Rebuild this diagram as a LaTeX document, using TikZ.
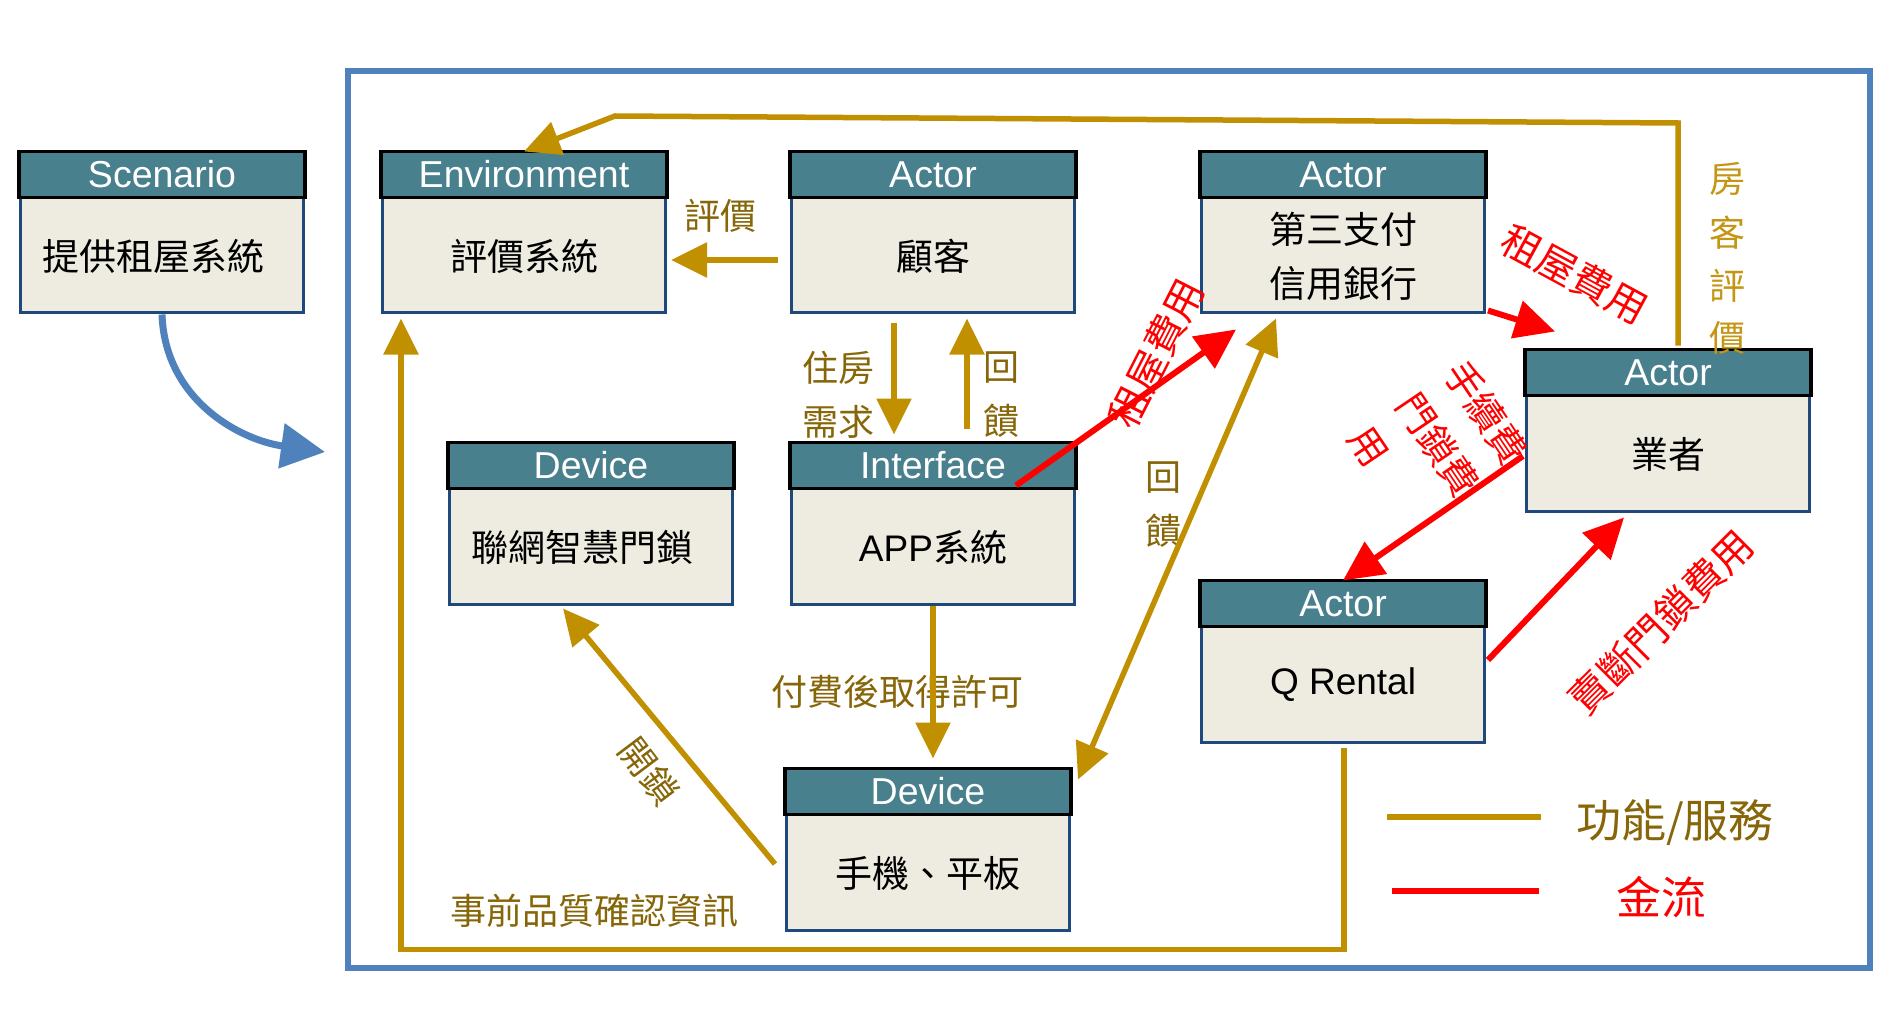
\documentclass[tikz,border=0pt]{standalone}
\usepackage{fontspec}
\setmainfont{Liberation Sans}
\newfontfamily\cjk{Noto Sans CJK TC}
\newfontfamily\lat{Liberation Sans}
\usetikzlibrary{arrows.meta,calc}
\definecolor{hdrfill}{RGB}{73,128,141}
\definecolor{bodyfill}{RGB}{238,236,225}
\definecolor{bodyline}{RGB}{31,73,125}
\definecolor{goldline}{RGB}{192,144,0}
\definecolor{goldtext}{RGB}{134,102,8}
\definecolor{goldlight}{RGB}{196,150,20}
\definecolor{frameblue}{RGB}{79,129,189}
\definecolor{redline}{RGB}{255,0,0}
\newcommand\umlbox[6][0]{%
  \node[umlbody] (#2) at (#3,#4) {};
  \draw[umlhdr] (#2.north west) rectangle ($(#2.north east)+(0,46)$);
  \node[hdrtxt] at ($(#2.north)+(0,23)$) {#5};
  \node[bodytxt] at ($(#2.center)+(#1,23)$) {#6};
}
\begin{document}
\begin{tikzpicture}[x=1pt,y=-1pt,
  umlbody/.style={draw=bodyline,line width=3pt,fill=bodyfill,minimum width=283pt,minimum height=160pt,inner sep=0pt},
  umlhdr/.style={draw=black,line width=3.2pt,fill=hdrfill},
  hdrtxt/.style={text=white,font=\lat\fontsize{37.5}{40}\selectfont,inner sep=0pt},
  bodytxt/.style={text=black,font=\cjk\fontsize{37}{54}\selectfont,align=center,inner sep=0pt},
  gold/.style={draw=goldline,line width=5.5pt},
  goldarrow/.style={gold,-{Triangle[length=36pt,width=34pt]}},
  redarrow/.style={draw=redline,line width=6pt,-{Triangle[length=40pt,width=38pt]}},
  bluearrow/.style={draw=frameblue,line width=7pt,-{Triangle[length=44pt,width=44pt]}},
  glabel/.style={text=goldtext,font=\cjk\fontsize{36}{43}\selectfont,inner sep=0pt},
  rlabel/.style={text=redline,font=\cjk\fontsize{40}{52}\selectfont,inner sep=0pt},
]
\useasboundingbox (0,0) rectangle (1890,1032);
\fill[white] (0,0) rectangle (1890,1032);
\draw[draw=frameblue,line width=6.5pt] (348,71) rectangle (1870,968);

% boxes
\umlbox[-9]{scen}{162}{233}{Scenario}{提供租屋系統}
\umlbox{env}{524}{233}{Environment}{評價系統}
\umlbox{cust}{933}{233}{Actor}{顧客}
\umlbox{pay}{1343}{233}{Actor}{第三支付\\信用銀行}
\umlbox{biz}{1668}{431}{Actor}{業者}
\umlbox[-9]{lock}{591}{524}{Device}{聯網智慧門鎖}
\umlbox{app}{933}{524}{Interface}{{\lat APP}系統}
\umlbox{qr}{1343}{662}{Actor}{{\lat Q Rental}}
\umlbox{dev}{928}{850}{Device}{手機、平板}

% labels
\node[glabel] (l1) at (720,216) {評價};
\node[glabel] (l2) at (838,368) {住房};
\node[glabel] (l3) at (838,422) {需求};
\node[glabel] (l4) at (1001,368) {回};
\node[glabel] (l5) at (1001,421) {饋};
\node[glabel] (l6) at (1163,478) {回};
\node[glabel] (l7) at (1163,531) {饋};
\node[glabel] (l8) at (897,692) {付費後取得許可};
\node[glabel,rotate=-53] (l9) at (649,771) {開鎖};
\node[glabel] (l10) at (594,911) {事前品質確認資訊};
\node[glabel,text=goldlight] (m1) at (1727,179) {房};
\node[glabel,text=goldlight] (m2) at (1727,233) {客};
\node[glabel,text=goldlight] (m3) at (1727,286) {評};
\node[glabel,text=goldlight] (m4) at (1727,338) {價};
\node[rlabel,rotate=63] (r1) at (1156,353) {租屋費用};
\node[rlabel,rotate=-28.5] (r2) at (1575,274) {租屋費用};
\node[rlabel,rotate=-56,align=left,font=\cjk\fontsize{38}{58}\selectfont] (r3) at (1438,445) {手續費\\門鎖費\\用};
\node[rlabel,rotate=45] (r4) at (1661,622) {賣斷門鎖費用};

% connectors
\coordinate (tr) at (1678,123);
\coordinate (tl) at (615,116);
\draw[goldarrow] ($(biz.north)+(10,-4)$) -- (tr) -- (tl) -- (env.north);
\draw[goldarrow] ($(cust.west)+(-12,27)$) -- ($(env.east)+(4,27)$);
\draw[goldarrow] ($(cust.south)+(-39,9)$) -- ($(app.north)+(-39,-8)$);
\draw[goldarrow] ($(app.north)+(34,-14)$) -- ($(cust.south)+(34,4)$);
\draw[gold,{Triangle[length=36pt,width=34pt]}-{Triangle[length=36pt,width=34pt]}] ($(dev.north east)+(7,11)$) -- ($(pay.south west)+(76,4)$);
\draw[goldarrow] (app.south) -- ($(dev.north)+(5,-10)$);
\draw[goldarrow] ($(dev.west)+(-10,14)$) -- ($(lock.south)+(-28,3)$);
\draw[goldarrow] ($(qr.south)+(1,4)$) -- ++(0,202) -| ($(env.south west)+(20,4)$);
\draw[redarrow] ($(app.north)+(83,43)$) -- ($(pay.south west)+(36,15)$);
\draw[redarrow] ($(pay.south east)+(2,-4)$) -- ($(biz.north west)+(30,-18)$);
\draw[redarrow] ($(biz.west)+(-2,25)$) -- (qr.north);
\draw[redarrow] ($(qr.east)+(2,-2)$) -- ($(biz.south)+(-44,5)$);
\coordinate (sa) at (325,452);
\draw[bluearrow] (scen.south) .. controls (165,400) and (240,440) .. (sa);

% legend
\coordinate (g1) at (1387,817);
\coordinate (g2) at (1541,817);
\coordinate (h1) at (1392,891);
\coordinate (h2) at (1539,891);
\draw[draw=goldline,line width=6pt] (g1) -- (g2);
\draw[draw=redline,line width=6pt] (h1) -- (h2);
\node[text=goldtext,font=\cjk\fontsize{45}{50}\selectfont,inner sep=0pt] (lg1) at (1675,823) {功能/服務};
\node[text=redline,font=\cjk\fontsize{45}{50}\selectfont,inner sep=0pt] (lg2) at (1661,897) {金流};
\end{tikzpicture}
\end{document}
